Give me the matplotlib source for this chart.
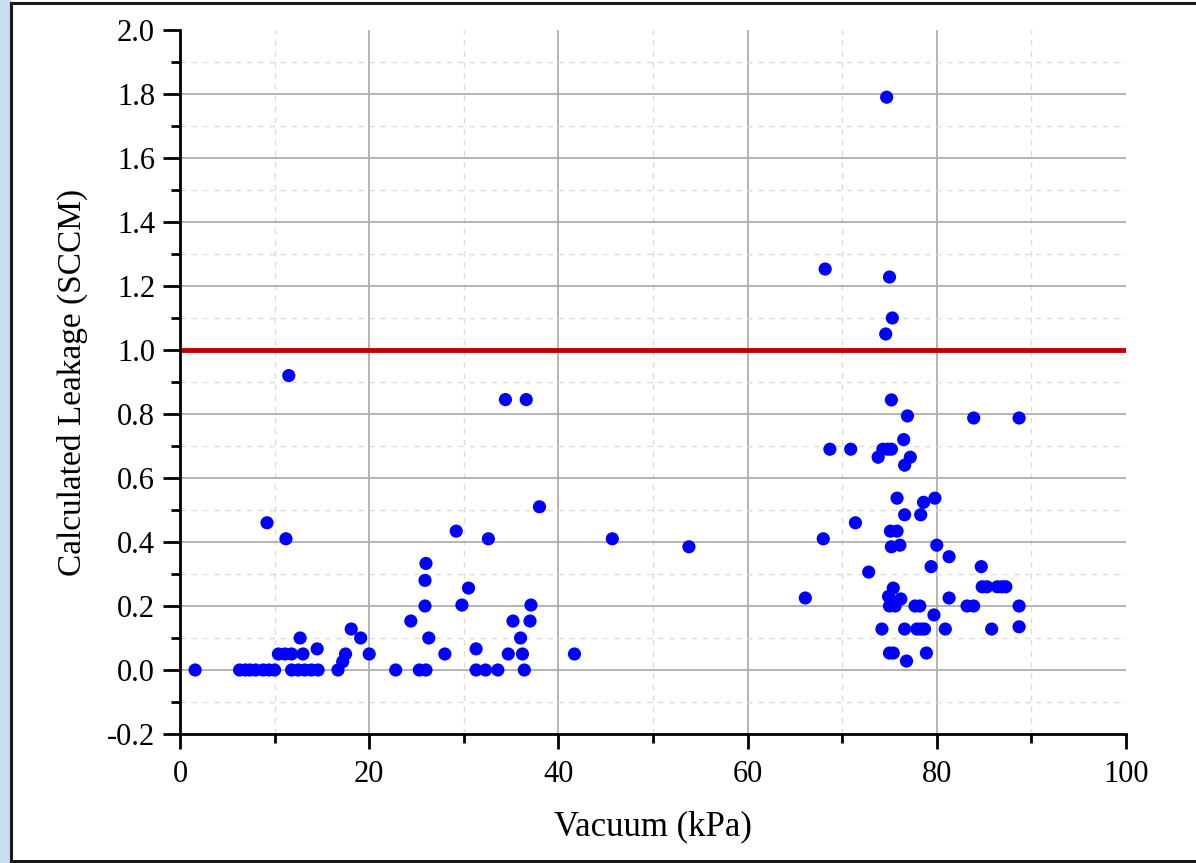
#!/usr/bin/env python3
# Leakage vs vacuum scatter with 1 SCCM limit line

import matplotlib
matplotlib.use('Agg')
import matplotlib.pyplot as plt
from matplotlib.patches import Rectangle
from matplotlib.lines import Line2D
from matplotlib.ticker import MultipleLocator

### Data
vacuum = [1.6, 6.3, 6.9, 7.4, 8.0, 8.8, 9.4, 10.0, 9.2, 10.4, 11.1, 11.8, 11.2, 11.5,
	11.8, 12.5, 13.2, 13.9, 14.6, 12.7, 13.0, 14.5, 16.7, 17.2, 17.5, 18.1, 19.1, 20.0,
	22.8, 24.4, 25.3, 26.0, 25.9, 25.9, 26.0, 26.3, 28.0, 29.2, 29.8, 30.5, 31.3, 31.3,
	32.3, 33.6, 32.6, 34.4, 34.7, 35.2, 36.0, 36.2, 36.4, 36.6, 37.0, 37.1, 38.0, 41.7,
	45.7, 53.8, 66.1, 68.0, 68.2, 68.7, 70.9, 71.4, 72.8, 73.8, 74.2, 74.3, 74.8, 75.2,
	74.6, 74.7, 74.9, 75.0, 75.0, 75.0, 75.1, 75.2, 75.2, 75.3, 75.4, 75.4, 75.6, 75.8,
	75.8, 76.1, 76.2, 76.5, 76.6, 76.6, 76.6, 76.8, 76.9, 77.2, 77.7, 78.2, 77.9, 78.3,
	78.7, 78.3, 78.6, 78.9, 79.4, 79.7, 79.8, 80.0, 80.9, 81.3, 81.3, 83.2, 83.9, 83.9,
	84.7, 84.8, 85.3, 85.8, 86.4, 86.9, 87.3, 88.7, 88.7, 88.7]
leakage = [0.0, 0.0, 0.0, 0.0, 0.0, 0.0, 0.0, 0.0, 0.46, 0.05, 0.05, 0.05, 0.41, 0.92,
	0.0, 0.0, 0.0, 0.0, 0.0, 0.10, 0.05, 0.066, 0.0, 0.026, 0.05, 0.128, 0.10, 0.05,
	0.0, 0.153, 0.0, 0.0, 0.2, 0.28, 0.333, 0.10, 0.05, 0.434, 0.203, 0.256, 0.066, 0.0,
	0.0, 0.0, 0.41, 0.845, 0.05, 0.153, 0.10, 0.05, 0.0, 0.845, 0.153, 0.203, 0.51, 0.05,
	0.41, 0.385, 0.225, 0.41, 1.253, 0.69, 0.69, 0.46, 0.306, 0.665, 0.128, 0.69, 0.69, 0.69,
	1.05, 1.79, 0.23, 1.228, 0.2, 0.053, 0.434, 0.385, 0.844, 1.1, 0.256, 0.053, 0.2, 0.434,
	0.537, 0.39, 0.222, 0.72, 0.64, 0.485, 0.128, 0.028, 0.794, 0.665, 0.2, 0.2, 0.128, 0.128,
	0.128, 0.485, 0.524, 0.053, 0.323, 0.172, 0.537, 0.39, 0.128, 0.354, 0.225, 0.2, 0.2, 0.7875,
	0.323, 0.26, 0.26, 0.128, 0.26, 0.26, 0.26, 0.7875, 0.2, 0.135]
limit = 1.0

plt.rcParams['font.family'] = ['Liberation Serif', 'DejaVu Serif']

fig = plt.figure(figsize=(11.96, 8.63), dpi=100)
W, H = 1196, 863

# light blue strip and black frame
fig.patches.append(Rectangle((0, 0), 10 / W, 1, transform=fig.transFigure, color='#C9DCF0', zorder=0))
for xs, ys in [([10.5 / W, 10.5 / W], [2 / H, 1 - 3.5 / H]),
		([10.5 / W, 1], [1 - 3.5 / H, 1 - 3.5 / H]),
		([10.5 / W, 1], [2 / H, 2 / H])]:
	fig.lines.append(Line2D(xs, ys, transform=fig.transFigure, color='#1a1a1a', lw=2.2))

ax = fig.add_axes([180 / W, 1 - 734 / H, 946 / W, 704 / H])
ax.set_xlim(0, 100)
ax.set_ylim(-0.2, 2.0)
ax.xaxis.set_major_locator(MultipleLocator(20))
ax.xaxis.set_minor_locator(MultipleLocator(10))
ax.yaxis.set_major_locator(MultipleLocator(0.2))
ax.yaxis.set_minor_locator(MultipleLocator(0.1))
ax.yaxis.set_major_formatter(plt.FormatStrFormatter('%.1f'))

ax.grid(which='major', color='#A8A8A8', lw=1.2, ls='-')
ax.grid(which='minor', color='#DCDCDC', lw=1.0, ls=(0, (4, 4)))
ax.set_axisbelow(True)

for s in ['top', 'right']:
	ax.spines[s].set_visible(False)
for s in ['left', 'bottom']:
	ax.spines[s].set_linewidth(2)
ax.tick_params(which='major', direction='out', length=12, width=2, labelsize=22, pad=6)
ax.tick_params(which='minor', direction='out', length=6.5, width=2)
ax.tick_params(axis='x', which='major', length=11, pad=8)

ax.axhline(limit, color='#C00000', lw=3.5, zorder=2)
ax.scatter(vacuum, leakage, s=90, color='#0000FF', edgecolors='none', zorder=3)

ax.set_xlabel('Vacuum (kPa)', fontsize=25)
ax.set_ylabel('Calculated Leakage (SCCM)', fontsize=24)
ax.xaxis.set_label_coords(0.5, -0.108)
ax.yaxis.set_label_coords(-0.097, 0.5)

fig.canvas.draw()
# no gridlines on the limit edges
for t in ax.yaxis.get_major_ticks():
	if abs(t.get_loc() - 2.0) < 1e-6 or abs(t.get_loc() + 0.2) < 1e-6:
		t.gridline.set_visible(False)
for t in ax.xaxis.get_major_ticks():
	if t.get_loc() in (0, 100):
		t.gridline.set_visible(False)

fig.savefig('out.png', dpi=100)
